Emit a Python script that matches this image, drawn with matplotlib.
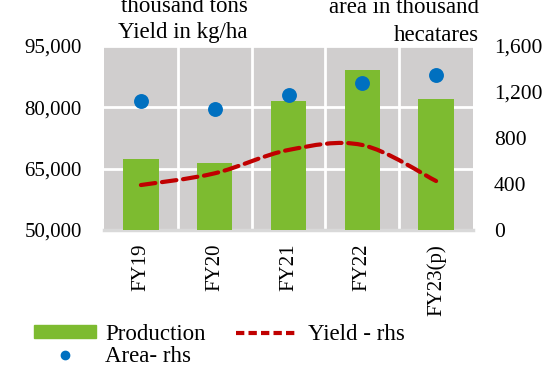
import matplotlib
matplotlib.use("Agg")
import matplotlib.pyplot as plt
from matplotlib.path import Path
from matplotlib.patches import PathPatch, Patch
from matplotlib.lines import Line2D
import matplotlib.ticker as mtick
import matplotlib.transforms as mtrans
import numpy as np

years = ["FY19", "FY20", "FY21", "FY22", "FY23(p)"]
production = [67300, 66300, 81500, 89100, 82000]   # lhs, thousand tons
area = [1124, 1050, 1174, 1281, 1345]               # rhs
yld = [391, 493, 696, 739, 426]                     # rhs

plt.rcParams['font.family'] = ['Liberation Serif', 'DejaVu Serif']
plt.rcParams['font.size'] = 15

green = '#7DBB30'
blue = '#0070C0'
red = '#C00000'

fig = plt.figure(figsize=(5.52, 3.71), dpi=100)
ax = fig.add_axes([104 / 552, 1 - 230 / 371, 369 / 552, 184 / 371])
ax.set_facecolor('#D0CECE')
ax.set_axisbelow(True)

x = np.arange(len(years))
ax.bar(x, production, width=0.48, color=green, zorder=3)
ax.set_xlim(-0.5, 4.5)
ax.set_ylim(50000, 95000)
ax.set_yticks([50000, 65000, 80000, 95000])
ax.yaxis.set_major_formatter(mtick.StrMethodFormatter('{x:,.0f}'))
ax.set_xticks(x)
ax.set_xticklabels(years, rotation=90)
# labels sit a bit left of the category centre in the original
shift = mtrans.ScaledTranslation(-7 / 100, 0, fig.dpi_scale_trans)
for lab in ax.get_xticklabels():
    lab.set_transform(lab.get_transform() + shift)
ax.set_xticks(x[:-1] + 0.5, minor=True)
ax.grid(axis='x', which='minor', color='white', lw=2)
ax.grid(axis='y', which='major', color='white', lw=2)
ax.tick_params(axis='both', which='both', length=0)
ax.tick_params(axis='y', pad=16)
ax.tick_params(axis='x', pad=10)
for s in ['top', 'left', 'right']:
    ax.spines[s].set_visible(False)
ax.spines['bottom'].set_color('#D9D9D9')
ax.spines['bottom'].set_linewidth(2.5)

ax2 = ax.twinx()
ax2.set_ylim(0, 1600)
ax2.set_yticks([0, 400, 800, 1200, 1600])
ax2.yaxis.set_major_formatter(mtick.StrMethodFormatter('{x:,.0f}'))
ax2.tick_params(axis='y', length=0, pad=15, labelsize=15.5)
for s in ax2.spines.values():
    s.set_visible(False)

ax2.scatter(x, area, s=115, color=blue, zorder=4, linewidths=0)

# smoothed yield line (Catmull-Rom style bezier, like Excel smoothing)
pts = np.column_stack([x, yld]).astype(float)
ext = np.vstack([pts[0], pts, pts[-1]])
verts = [tuple(pts[0])]
codes = [Path.MOVETO]
for i in range(len(pts) - 1):
    p0, p1, p2, p3 = ext[i], ext[i + 1], ext[i + 2], ext[i + 3]
    c1 = p1 + (p2 - p0) / 6
    c2 = p2 - (p3 - p1) / 6
    verts += [tuple(c1), tuple(c2), tuple(p2)]
    codes += [Path.CURVE4] * 3
ax2.add_patch(PathPatch(Path(verts, codes), fill=False, edgecolor=red, lw=3,
                        linestyle=(0, (3.5, 1.6)), capstyle='round', zorder=3))

# axis unit titles (top line is clipped by the figure edge, as in the original)
fs = 16.5
fig.text(248 / 552, 1 - 12 / 371, "thousand tons", ha='right', va='baseline', fontsize=fs)
fig.text(248 / 552, 1 - 38 / 371, "Yield in kg/ha", ha='right', va='baseline', fontsize=fs)
fig.text(479 / 552, 1 - 13 / 371, "area in thousand", ha='right', va='baseline', fontsize=fs)
fig.text(479 / 552, 1 - 41 / 371, "hecatares", ha='right', va='baseline', fontsize=fs)

handles = [Patch(color=green),
           Line2D([], [], marker='o', ls='none', color=blue, ms=6),
           Line2D([], [], color=red, lw=3, ls=(0, (2, 1)))]
labels = ["Production", "Area- rhs", "Yield - rhs"]
fig.legend(handles, labels, ncol=2, loc='upper left', fontsize=fs,
           bbox_to_anchor=(34 / 552, 1 - 324 / 371), frameon=False,
           borderpad=0, borderaxespad=0, handlelength=2.7, handleheight=0.5,
           handletextpad=0.4, columnspacing=1.35, labelspacing=0.05)

fig.savefig("out.png", dpi=100)
